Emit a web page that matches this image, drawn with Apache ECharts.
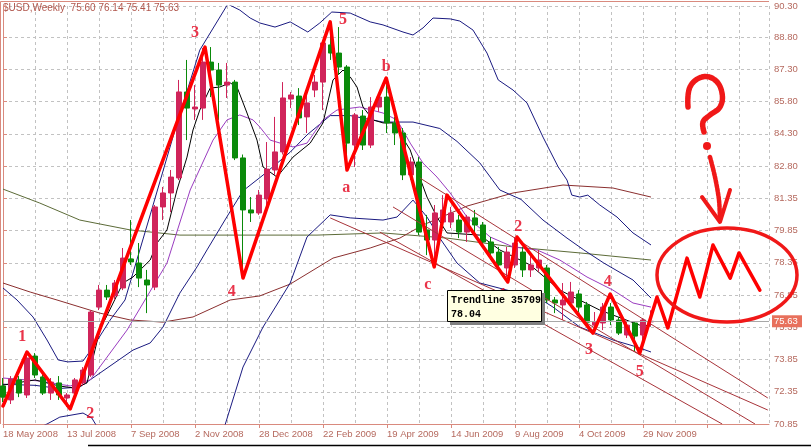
<!DOCTYPE html>
<html><head><meta charset="utf-8">
<script src="https://cdn.jsdelivr.net/npm/echarts@6/dist/echarts.min.js"></script>
<style>html,body{margin:0;padding:0;background:#fff}#c{width:811px;height:447px}</style>
</head><body><div id="c"></div><script>
// ---- categories (weekly bars) ----
const dates = ['18 May 2008','25 May 2008','1 Jun 2008','8 Jun 2008','15 Jun 2008','22 Jun 2008','29 Jun 2008','6 Jul 2008','13 Jul 2008','20 Jul 2008','27 Jul 2008','3 Aug 2008','10 Aug 2008','17 Aug 2008','24 Aug 2008','31 Aug 2008','7 Sep 2008','14 Sep 2008','21 Sep 2008','28 Sep 2008','5 Oct 2008','12 Oct 2008','19 Oct 2008','26 Oct 2008','2 Nov 2008','9 Nov 2008','16 Nov 2008','23 Nov 2008','30 Nov 2008','7 Dec 2008','14 Dec 2008','21 Dec 2008','28 Dec 2008','4 Jan 2009','11 Jan 2009','18 Jan 2009','25 Jan 2009','1 Feb 2009','8 Feb 2009','15 Feb 2009','22 Feb 2009','1 Mar 2009','8 Mar 2009','15 Mar 2009','22 Mar 2009','29 Mar 2009','5 Apr 2009','12 Apr 2009','19 Apr 2009','26 Apr 2009','3 May 2009','10 May 2009','17 May 2009','24 May 2009','31 May 2009','7 Jun 2009','14 Jun 2009','21 Jun 2009','28 Jun 2009','5 Jul 2009','12 Jul 2009','19 Jul 2009','26 Jul 2009','2 Aug 2009','9 Aug 2009','16 Aug 2009','23 Aug 2009','30 Aug 2009','6 Sep 2009','13 Sep 2009','20 Sep 2009','27 Sep 2009','4 Oct 2009','11 Oct 2009','18 Oct 2009','25 Oct 2009','1 Nov 2009','8 Nov 2009','15 Nov 2009','22 Nov 2009','29 Nov 2009','6 Dec 2009'];
const labelEvery = 8;
const yLabels = ['70.85','72.35','73.85','75.35','76.85','78.35','79.85','81.35','82.80','84.30','85.80','87.30','88.80','90.30'];

// ---- OHLC ----
const open  = [72.62,71.97,72.90,72.20,74.01,73.04,72.29,72.76,72.06,72.29,72.76,73.13,76.29,77.08,76.81,77.18,78.53,78.34,77.55,77.22,80.95,81.60,82.30,86.30,85.51,85.55,87.69,87.32,86.62,86.76,83.23,80.81,80.67,81.32,82.67,83.51,85.97,86.11,85.14,86.39,86.76,88.49,88.11,87.46,83.83,85.18,83.83,85.60,86.06,84.86,84.39,82.44,83.04,79.88,79.41,80.25,80.25,80.34,79.78,80.44,80.11,79.32,78.85,78.11,78.25,78.85,78.02,78.11,78.11,76.62,76.39,76.48,76.90,76.39,75.45,75.55,76.29,75.69,74.99,75.55,74.99,75.60];
const close = [72.10,72.94,72.29,73.92,73.13,72.29,72.80,72.20,72.20,72.90,73.36,76.06,77.08,76.76,77.41,78.57,78.39,77.64,77.32,80.95,81.60,82.34,86.30,85.55,85.60,87.69,87.32,86.62,86.76,83.23,80.81,80.67,81.50,82.71,83.51,86.02,86.16,85.09,85.79,86.76,88.58,88.11,87.46,83.92,85.23,83.83,85.60,86.06,84.86,84.39,82.44,83.04,79.78,79.41,80.67,80.81,80.67,79.78,80.48,80.11,79.32,78.81,78.25,78.85,79.27,78.02,78.25,78.48,76.62,76.48,76.62,76.99,76.29,75.59,75.59,76.29,75.69,75.08,75.45,74.94,75.69,75.63];
const low   = [71.87,71.78,72.10,72.06,72.99,72.20,71.97,71.97,71.64,72.15,72.62,73.04,76.15,76.62,76.62,77.08,78.25,77.22,76.01,77.08,80.34,80.71,82.20,84.06,85.00,85.00,86.06,85.00,86.02,83.13,77.64,80.25,80.58,81.04,82.44,83.39,85.55,84.76,84.39,86.06,85.46,87.79,87.09,82.81,82.81,83.60,83.69,85.37,84.39,83.83,82.20,82.20,79.64,78.71,78.39,79.97,79.97,79.50,79.32,79.74,79.09,78.48,78.16,77.69,78.11,77.69,77.69,77.92,76.48,76.01,75.69,76.29,76.06,75.45,75.08,75.22,75.45,74.99,74.85,74.20,74.29,75.41];
const high  = [72.99,73.08,73.08,74.25,74.15,73.17,72.99,73.08,72.29,72.99,73.50,76.15,77.32,77.32,77.55,79.04,80.34,79.27,78.02,81.04,81.88,82.67,86.86,87.79,86.62,88.35,88.39,87.65,87.65,86.86,83.39,81.41,81.74,83.97,85.14,86.76,86.30,86.48,86.39,87.09,88.72,89.55,89.32,87.55,85.32,85.46,86.06,86.25,86.86,85.14,84.62,83.27,83.27,80.58,81.04,81.50,80.95,80.58,80.58,80.81,80.25,79.55,79.09,79.09,79.55,79.09,78.71,78.95,78.25,76.76,77.41,77.46,77.08,76.53,76.06,76.48,76.48,75.83,75.69,75.59,75.78,76.14];

// ---- indicator lines: [bar, price] ----
const ma5 = [[0,72.66],[4,72.90],[7,72.62],[9,72.52],[10.5,72.76],[12.1,75.22],[15,77.41],[16.25,77.69],[18.4,78.48],[19.25,79.27],[20.5,79.88],[21.75,81.74],[23,83.27],[23.75,84.53],[24.6,85.46],[25.9,86.48],[27.1,86.53],[28.4,86.72],[29.25,86.53],[30.5,85.32],[31.75,84.06],[32.5,82.81],[34.25,82.34],[36.25,83.27],[38.4,83.92],[40,84.86],[41.25,86.86],[42.5,87.32],[43.4,87.00],[44.25,86.53],[45,85.60],[46.25,85.00],[47.5,84.86],[48.75,84.86],[49.6,84.39],[50.9,83.60],[51.75,82.67],[53,81.41],[54.25,80.48],[55.5,79.74],[59.6,79.64],[62.1,78.95],[65.9,78.25],[69.6,77.08],[74.6,76.15],[79.6,75.45],[81,75.41]];
const ma10 = [[0,72.99],[4.6,72.85],[8.4,72.62],[10.9,72.90],[15.5,75.22],[20.5,78.34],[23.4,81.74],[26.25,84.06],[28,85.00],[29.6,85.23],[31.25,85.00],[32.1,84.67],[33.4,84.06],[36.25,83.74],[38,83.92],[40,85.00],[41.75,85.46],[44.6,85.60],[47.5,85.32],[49.25,85.00],[50.9,83.92],[52.5,82.99],[54.25,82.34],[55.9,81.60],[58,80.48],[60.9,79.55],[63.75,79.09],[66.75,78.95],[69.6,78.48],[73,77.69],[76.25,77.08],[78.75,76.48],[81,76.29]];
const bbUpper = [[0,77.18],[1.75,76.62],[3.75,75.83],[5.5,74.76],[6.9,73.83],[8.1,73.74],[10,73.78],[11.25,74.43],[13.4,75.69],[15.25,76.62],[18.4,80.58],[21.5,84.53],[24.6,88.25],[28.1,90.39],[29.6,90.11],[30.9,89.74],[32.1,89.51],[34,89.32],[35.9,89.56],[38.1,89.09],[39.6,89.51],[41.1,90.02],[43.4,89.97],[45.9,89.56],[47.5,89.42],[50,89.09],[51.25,88.95],[52.5,89.28],[53.75,89.74],[55.9,89.70],[57.1,89.60],[58.75,89.18],[60.5,88.11],[61.9,86.86],[63.75,86.39],[65.5,85.79],[67.5,84.20],[69.4,82.81],[70.5,82.20],[71.1,81.50],[72.1,81.41],[73.1,81.50],[74.6,81.04],[76.75,80.48],[78.75,79.74],[81,79.18]];
const bbMid = [[0,72.70],[4,72.65],[7,72.50],[9.6,72.57],[16.25,74.29],[18.4,74.62],[20,75.36],[22.1,76.94],[24.25,78.16],[25.5,78.95],[28,80.50],[30,81.70],[32.5,82.43],[35.9,83.50],[38,84.30],[40.9,85.20],[43.4,85.20],[47.5,84.90],[51.25,84.90],[54.6,84.60],[56.75,84.00],[59.6,83.00],[62.1,81.74],[64.75,81.30],[67.5,80.34],[70.5,79.50],[72.6,78.95],[75.1,78.34],[78.75,77.55],[81,76.71]];
const bbLower = [[3.4,70.48],[5.5,70.85],[7.1,71.17],[10,71.36],[11.1,71.13],[12.75,70.11],[20,68.5],[27.75,70.80],[30,73.50],[32.5,75.36],[33.75,76.11],[35.9,77.41],[38,79.55],[40.9,80.58],[43.4,80.44],[47.5,80.34],[49.25,80.48],[51.25,81.27],[53,80.48],[54.6,79.50],[56.75,78.34],[59.6,77.41],[63,77.08],[66.75,76.76],[68.75,76.29],[72.1,75.36],[76.25,74.76],[79.25,74.43],[81,74.20]];
const maSlow = [[0,77.41],[3.4,76.99],[6.75,76.62],[12.1,76.01],[15.9,75.69],[20,75.59],[23.75,75.83],[28.4,76.62],[32.1,76.81],[35.9,77.36],[41.25,78.57],[45.9,79.04],[49.6,79.50],[52.5,80.11],[58,80.99],[63.75,81.60],[70,81.97],[76.25,81.83],[81,81.41]];
const maLong = [[0,81.78],[4.6,81.13],[9.6,80.34],[15.9,79.88],[22.1,79.64],[32.1,79.64],[39.25,79.64],[47.5,79.74],[55.5,79.50],[63.75,79.09],[72.1,78.81],[81,78.48]];

// ---- drawings ----
const trendlines = [
  [[52.1,82.30],[95.6,72.06]],
  [[48.75,80.95],[94,70.85]],
  [[40.9,80.44],[95.6,71.50]],
  [[47.1,79.78],[89.9,70.85]]
];
const waves = [[0,71.69],[3,74.20],[8.4,71.55],[25.25,88.39],[30,77.64],[40.9,89.56],[43,82.67],[47.9,86.95],[53.9,78.16],[55.5,81.50],[63.1,77.46],[64.25,79.55],[73.75,75.08],[75.9,76.90],[79.6,74.15],[81.75,76.76],[83.1,75.32],[85.5,78.57],[87.1,76.76],[88.75,79.18],[90.9,77.64],[92,78.81],[94.6,77.08]];
const waveLabels = [[2.4,74.90,'1'],[10.9,71.30,'2'],[24,89.05,'3'],[28.6,76.99,'4'],[42.5,89.65,'5'],[42.9,81.83,'a'],[47.9,87.46,'b'],[53.1,77.32,'c'],[62.5,76.85,'1'],[64.4,80.02,'2'],[73.25,74.29,'3'],[75.6,77.46,'4'],[79.6,73.27,'5']];
const lastPrice = 75.63;
const ellipseCenter = [90.5, 77.78];

const chart = echarts.init(document.getElementById('c'), null, {renderer:'canvas'});
const FONT = 'Liberation Sans';
const AX = '#d98a7e', LBL = '#b5695e';
const candleData = open.map((o,i)=>[i,o,close[i],low[i],high[i]]);
function lineS(data,color,z){return {type:'line',data:data,symbol:'none',silent:true,z:z||2,lineStyle:{color:color,width:1},animation:false};}
const series = [
  lineS(maLong,'#5c6b38'),
  lineS(maSlow,'#8b2f2f'),
  lineS(bbUpper,'#1a1a80'),
  lineS(bbMid,'#1a1a80'),
  lineS(bbLower,'#1a1a80'),
  lineS(ma10,'#9a3cc0'),
  lineS(ma5,'#000000'),
  {type:'candlestick',data:candleData,encode:{x:0,y:[1,2,3,4]},barWidth:5,z:3,clip:false,
   itemStyle:{color:'#d0245a',color0:'#0a8a0a',borderColor:'#d0245a',borderColor0:'#0a8a0a',borderWidth:1},
   markLine:{silent:true,symbol:'none',label:{show:false},lineStyle:{color:'#a8a8a8',type:'solid',width:1},data:[{yAxis:lastPrice}]}}
];
trendlines.forEach(t=>series.push(lineS(t,'#a8343a',4)));
series.push({type:'line',data:waves,symbol:'none',z:6,lineStyle:{color:'#ff0000',width:3.5,join:'round',cap:'round'}});
series.push({type:'scatter',data:waveLabels,symbolSize:0,z:7,silent:true,
  label:{show:true,position:'inside',formatter:p=>p.data[2],color:'#e3001b',fontFamily:'Liberation Serif',fontWeight:'bold',fontSize:16}});

chart.setOption({
  animation:false,backgroundColor:'#ffffff',
  grid:{left:3,right:42,top:6,bottom:23},
  xAxis:[
    {type:'value',min:0,max:95.75,interval:4,axisLine:{show:false},axisTick:{show:false},axisLabel:{show:false},
     splitLine:{show:true,lineStyle:{color:'#c2c2c2',type:[3,3],width:1}}},
    {type:'value',min:0,max:95.75,interval:labelEvery,position:'bottom',
     axisLine:{show:true,lineStyle:{color:AX}},axisTick:{show:true,length:4,lineStyle:{color:AX}},splitLine:{show:false},
     axisLabel:{show:true,showMaxLabel:false,color:LBL,fontFamily:FONT,fontSize:9.5,margin:5,align:'left',
       formatter:v=>{const i=Math.round(v);return (i%labelEvery===0&&dates[i]&&i<=80)?dates[i]:'';}}}
  ],
  yAxis:{type:'value',position:'right',min:70.85,max:90.30,interval:1.5,
    axisLine:{show:true,lineStyle:{color:AX}},axisTick:{show:true,length:4,lineStyle:{color:AX}},
    splitLine:{show:true,lineStyle:{color:'#c2c2c2',type:[3,3],width:1}},
    axisLabel:{color:LBL,fontFamily:FONT,fontSize:9.5,margin:5,
      formatter:v=>yLabels[Math.round((v-70.85)/1.5)]||''}},
  series:series
});

// annotations
const c = chart.convertToPixel({gridIndex:0},ellipseCenter);
const pl = chart.convertToPixel({gridIndex:0},[95.75,lastPrice]);
const hdr = '$USD,Weekly  '+[open[81],high[81],low[81],close[81]].map(v=>v.toFixed(2)).join(' ');
const red = '#f01818';
chart.setOption({graphic:[
  {type:'line',shape:{x1:0.5,y1:1.5,x2:769,y2:1.5},style:{stroke:AX,lineWidth:1},silent:true},
  {type:'line',shape:{x1:0.5,y1:1.5,x2:0.5,y2:424},style:{stroke:AX,lineWidth:1},silent:true},
  {type:'line',shape:{x1:88,y1:445.5,x2:811,y2:445.5},style:{stroke:'#000',lineWidth:1.5},silent:true},
  {type:'text',left:3,top:3,style:{text:hdr,fill:'#b0564c',font:'10px "Liberation Sans"'},silent:true},
  {type:'rect',shape:{x:pl[0]+3,y:pl[1]-6,width:30,height:12},style:{fill:'#e8705c'},silent:true,z:10},
  {type:'text',x:pl[0]+5,y:pl[1]-5,style:{text:lastPrice.toFixed(2),fill:'#fff',font:'9.5px "Liberation Sans"'},silent:true,z:11},
  {type:'ellipse',shape:{cx:c[0],cy:c[1],rx:70,ry:47},style:{fill:null,stroke:red,lineWidth:3.5},silent:true,z:20},
  {type:'polyline',shape:{points:[[688,107],[690,87],[702,77],[715,80],[722,93],[720,107],[710,115],[703,122],[704,132]],smooth:0.4},style:{fill:null,stroke:red,lineWidth:5.5,lineCap:'round',lineDash:[3,1]},silent:true,z:20},
  {type:'circle',shape:{cx:707,cy:146,r:4},style:{fill:red},silent:true,z:20},
  {type:'polyline',shape:{points:[[710,157],[715,177],[719,200],[720,220]],smooth:0.3},style:{fill:null,stroke:red,lineWidth:4.5,lineCap:'round',lineDash:[3,1]},silent:true,z:20},
  {type:'polyline',shape:{points:[[702,197],[720,222],[730,190]]},style:{fill:null,stroke:red,lineWidth:4,lineCap:'round',lineJoin:'round'},silent:true,z:20},
  {type:'rect',shape:{x:450,y:293,width:95,height:32},style:{fill:'#808080'},silent:true,z:21},
  {type:'rect',shape:{x:447.5,y:290.5,width:94,height:31},style:{fill:'#ffffe1',stroke:'#000',lineWidth:1},silent:true,z:22},
  {type:'text',x:451,y:293,style:{text:'Trendline 35709\n78.04',fill:'#000',font:'bold 10px "Liberation Mono"',lineHeight:14},silent:true,z:23}
]});
</script></body></html>
